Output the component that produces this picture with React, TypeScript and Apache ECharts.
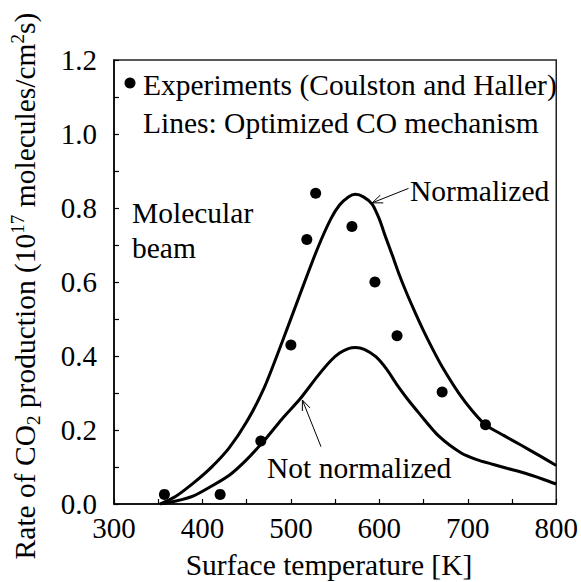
import React, { useEffect, useRef } from 'react';
import * as echarts from 'echarts';

const FONT = "'Liberation Serif', 'Times New Roman', Times, serif";
const FS = 29.5;

// Experimental CO2 production rate (Coulston and Haller)
const expTemp = [357, 420, 466, 500, 518, 528, 569, 595, 620, 671, 720];
const expRate = [0.026, 0.026, 0.17, 0.43, 0.715, 0.84, 0.75, 0.6, 0.455, 0.303, 0.214];

// Optimized CO mechanism, normalized
const normTemp = [352, 370, 390, 410, 430, 450, 470, 490, 510, 530, 545, 555, 565, 573, 582, 592, 600, 607, 615, 622, 630, 640, 650, 660, 671, 690, 705, 720, 740, 761, 780, 800];
const normRate = [0, 0.021, 0.057, 0.099, 0.151, 0.222, 0.315, 0.437, 0.565, 0.69, 0.77, 0.808, 0.83, 0.837, 0.83, 0.81, 0.77, 0.722, 0.67, 0.623, 0.575, 0.52, 0.468, 0.42, 0.371, 0.299, 0.252, 0.214, 0.186, 0.158, 0.132, 0.104];

// Optimized CO mechanism, not normalized
const rawTemp = [352, 370, 390, 410, 430, 450, 470, 490, 510, 530, 545, 555, 565, 573, 583, 596, 608, 620, 632, 645, 667, 693, 710, 727, 745, 765, 785, 800];
const rawRate = [0, 0.008, 0.022, 0.048, 0.077, 0.12, 0.172, 0.23, 0.283, 0.345, 0.387, 0.408, 0.42, 0.423, 0.418, 0.398, 0.365, 0.322, 0.283, 0.245, 0.184, 0.137, 0.12, 0.108, 0.096, 0.083, 0.067, 0.054];

const pairs = (xs: number[], ys: number[]) => xs.map((x, i) => [x, ys[i]]);

function arrow(tail: number[], tip: number[]) {
  const dx = tail[0] - tip[0];
  const dy = tail[1] - tip[1];
  const len = Math.hypot(dx, dy);
  const ux = dx / len;
  const uy = dy / len;
  const head = 11;
  const a = (22 * Math.PI) / 180;
  const rot = (ang: number) => [
    tip[0] + head * (ux * Math.cos(ang) - uy * Math.sin(ang)),
    tip[1] + head * (ux * Math.sin(ang) + uy * Math.cos(ang)),
  ];
  const style = { stroke: '#000', lineWidth: 1, fill: 'none' };
  return [
    { type: 'line', shape: { x1: tail[0], y1: tail[1], x2: tip[0], y2: tip[1] }, style },
    { type: 'polyline', shape: { points: [rot(a), tip, rot(-a)] }, style },
  ];
}

export default function App() {
  const ref = useRef<HTMLDivElement>(null);

  useEffect(() => {
    if (!ref.current) return;
    document.body.style.margin = '0';
    const chart = echarts.init(ref.current, undefined, { renderer: 'svg' });
    const axisText = { color: '#000', fontFamily: FONT, fontSize: 29 };
    chart.setOption({
      animation: false,
      backgroundColor: '#fff',
      grid: {
        left: 114,
        right: 23,
        top: 60,
        bottom: 78,
        show: true,
        borderColor: '#222',
        borderWidth: 1.5,
        backgroundColor: 'transparent',
      },
      xAxis: {
        type: 'value',
        min: 300,
        max: 800,
        interval: 50,
        axisLine: { lineStyle: { color: '#000', width: 1.5 } },
        axisTick: { inside: true, length: 5, lineStyle: { color: '#000', width: 1.2 } },
        splitLine: { show: false },
        axisLabel: {
          ...axisText,
          margin: 9,
          formatter: (v: number) => (Math.round(v) % 100 === 0 ? String(Math.round(v)) : ''),
        },
      },
      yAxis: {
        type: 'value',
        min: 0,
        max: 1.2,
        interval: 0.1,
        axisLine: { lineStyle: { color: '#000', width: 1.5 } },
        axisTick: { inside: true, length: 5, lineStyle: { color: '#000', width: 1.2 } },
        splitLine: { show: false },
        axisLabel: {
          ...axisText,
          margin: 17,
          formatter: (v: number) => (Math.round(v * 10) % 2 === 0 ? v.toFixed(1) : ''),
        },
      },
      series: [
        {
          type: 'line',
          data: pairs(normTemp, normRate),
          smooth: 0.25,
          showSymbol: false,
          lineStyle: { color: '#000', width: 3 },
        },
        {
          type: 'line',
          data: pairs(rawTemp, rawRate),
          smooth: 0.25,
          showSymbol: false,
          lineStyle: { color: '#000', width: 3 },
        },
        {
          type: 'scatter',
          data: pairs(expTemp, expRate),
          symbol: 'circle',
          symbolSize: 11,
          itemStyle: { color: '#000', opacity: 1 },
        },
      ],
    });

    const px = (p: number[]) => chart.convertToPixel({ gridIndex: 0 }, p) as number[];
    const txt = (text: string, x: number, y: number, extra: any = {}) => ({
      type: 'text',
      x,
      y,
      style: {
        text,
        fill: '#000',
        fontFamily: FONT,
        fontSize: FS,
        align: 'left',
        verticalAlign: 'middle',
        ...extra,
      },
    });

    chart.setOption({
      graphic: [
        { type: 'circle', shape: { cx: 130, cy: 83, r: 5.5 }, style: { fill: '#000' } },
        txt('Experiments (Coulston and Haller)', 143, 85),
        txt('Lines: Optimized CO mechanism', 143, 123),
        txt('Molecular', 132, 213),
        txt('beam', 132, 248),
        txt('Normalized', 410, 191),
        txt('Not normalized', 267, 468),
        ...arrow(px([633, 0.853]), px([592, 0.814])),
        ...arrow(px([534, 0.155]), px([513, 0.281])),
        txt('Surface temperature [K]', 329, 565, { align: 'center' }),
        {
          type: 'text',
          x: 25,
          y: 286,
          rotation: Math.PI / 2,
          style: {
            text: '{n|Rate of CO}{sub|2}{n| production (10}{sup|17}{n| molecules/cm}{sup|2}{n|s)}',
            align: 'center',
            verticalAlign: 'middle',
            fill: '#000',
            rich: {
              n: { fontFamily: FONT, fontSize: FS, lineHeight: 35, verticalAlign: 'middle' },
              sub: { fontFamily: FONT, fontSize: 19, lineHeight: 19, verticalAlign: 'bottom' },
              sup: { fontFamily: FONT, fontSize: 19, lineHeight: 19, verticalAlign: 'top' },
            },
          },
        },
      ],
    });

    return () => chart.dispose();
  }, []);

  return <div ref={ref} style={{ width: 581, height: 582 }} />;
}
